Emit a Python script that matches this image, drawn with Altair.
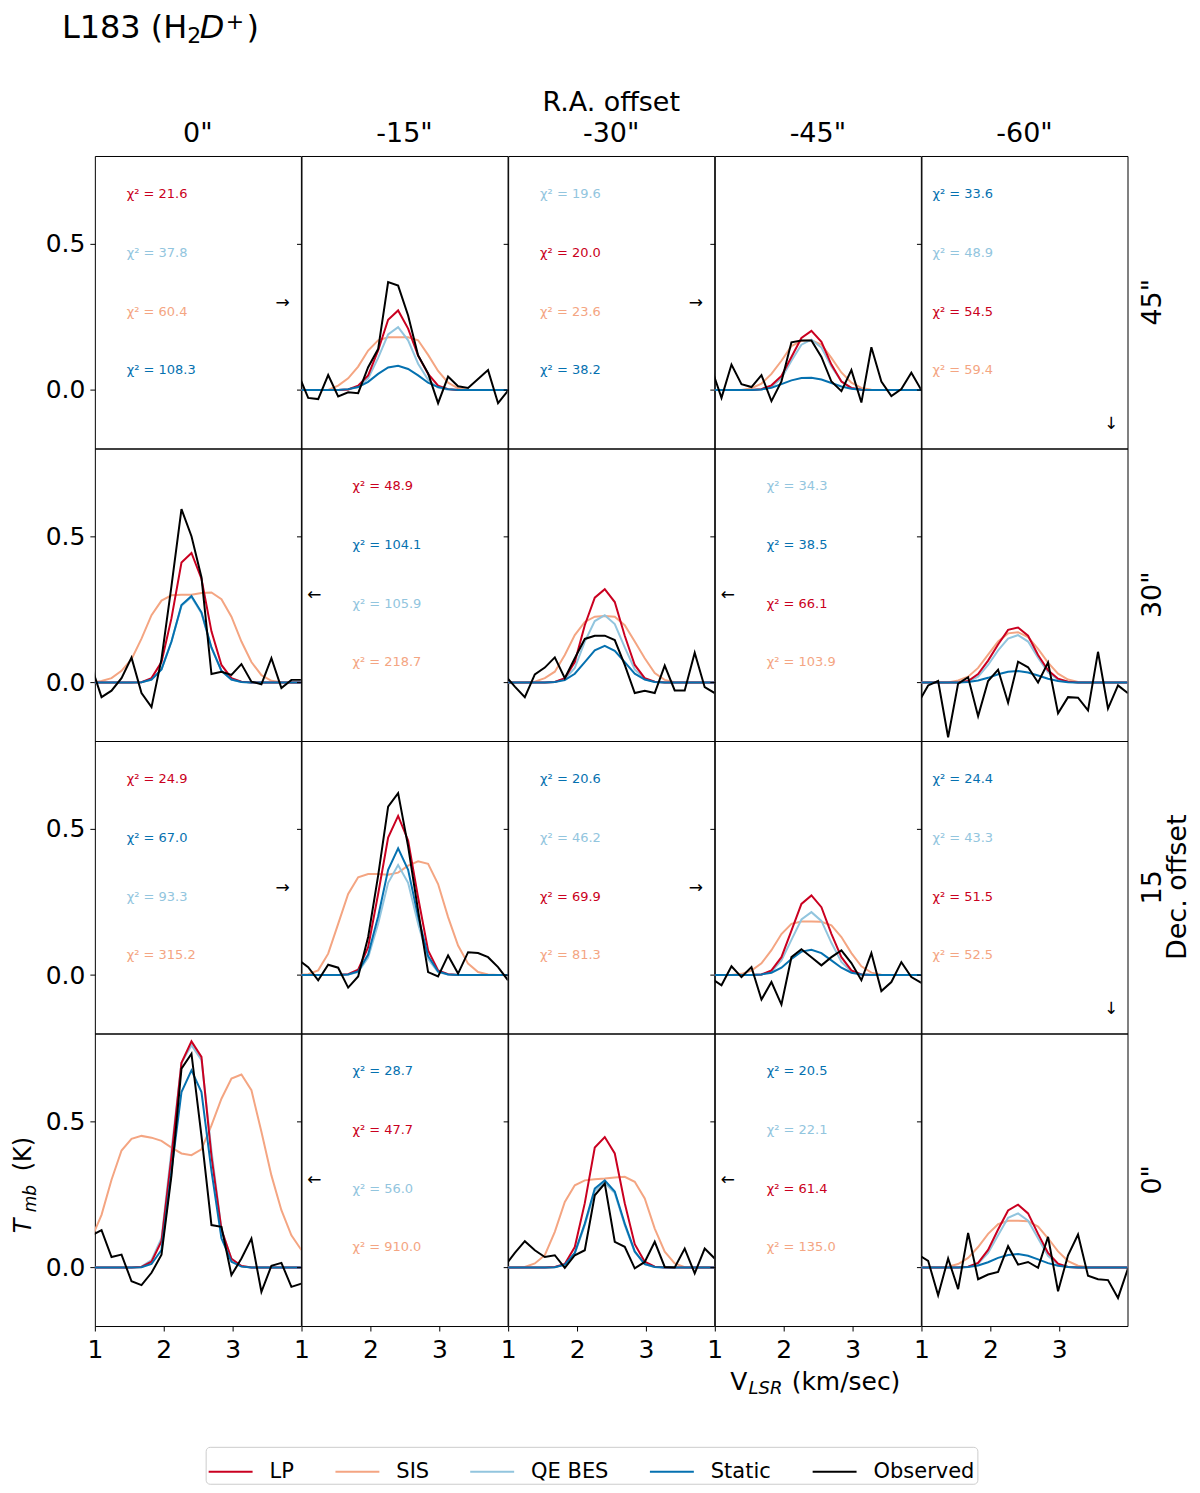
import altair as alt
import pandas as pd

# ---------------- data ----------------
VEL = [0.952, 1.097, 1.242, 1.387, 1.532, 1.677, 1.822, 1.967, 2.112, 2.257, 2.402,
       2.547, 2.692, 2.837, 2.982, 3.127, 3.272, 3.417, 3.562, 3.707, 3.852, 3.997]

RA_LABELS = ['0"', '-15"', '-30"', '-45"', '-60"']
DEC_LABELS = ['45"', '30"', '15', '0"']
SERIES = ["LP", "SIS", "QE BES", "Static", "Observed"]
COLORS = ["#ca0020", "#f4a582", "#92c5de", "#0571b0", "#000000"]

# Dec 45", RA -15"
OBS_45_15 = [0.055, -0.027, -0.031, 0.051, -0.022, -0.008, -0.011, 0.078, 0.14, 0.369, 0.357, 0.255, 0.118, 0.057, -0.045, 0.046, 0.013, 0.007, 0.038, 0.068, -0.045, -0.002]
LP_45_15 = [0, 0, 0, 0, 0, 0.002, 0.015, 0.05, 0.135, 0.24, 0.272, 0.21, 0.118, 0.055, 0.015, 0.003, 0, 0, 0, 0, 0, 0]
SIS_45_15 = [0, 0, 0, 0, 0.015, 0.04, 0.08, 0.135, 0.17, 0.18, 0.18, 0.18, 0.17, 0.12, 0.065, 0.025, 0.006, 0, 0, 0, 0, 0]
QE_45_15 = [0, 0, 0, 0, 0, 0.002, 0.01, 0.04, 0.11, 0.19, 0.215, 0.17, 0.09, 0.035, 0.008, 0.001, 0, 0, 0, 0, 0, 0]
ST_45_15 = [0, 0, 0, 0, 0, 0.003, 0.01, 0.028, 0.055, 0.077, 0.083, 0.072, 0.05, 0.025, 0.01, 0.003, 0, 0, 0, 0, 0, 0]

# Dec 45", RA -45"
OBS_45_45 = [0.074, -0.027, 0.087, 0.02, 0.01, 0.051, -0.038, 0.029, 0.163, 0.169, 0.169, 0.113, 0.029, -0.004, 0.068, -0.043, 0.146, 0.029, -0.021, 0.003, 0.059, 0.0]
LP_45_45 = [0, 0, 0, 0, 0, 0.003, 0.016, 0.048, 0.113, 0.178, 0.202, 0.165, 0.087, 0.029, 0.007, 0.001, 0, 0, 0, 0, 0, 0]
SIS_45_45 = [0, 0, 0, 0, 0.006, 0.022, 0.055, 0.10, 0.15, 0.168, 0.17, 0.155, 0.11, 0.06, 0.025, 0.007, 0.001, 0, 0, 0, 0, 0]
QE_45_45 = [0, 0, 0, 0, 0, 0.002, 0.012, 0.04, 0.1, 0.155, 0.172, 0.145, 0.08, 0.03, 0.007, 0.001, 0, 0, 0, 0, 0, 0]
ST_45_45 = [0, 0, 0, 0, 0, 0.002, 0.008, 0.02, 0.033, 0.041, 0.042, 0.036, 0.024, 0.012, 0.004, 0.001, 0, 0, 0, 0, 0, 0]

# Dec 30", RA 0"
OBS_30_0 = [0.054, -0.05, -0.028, 0.015, 0.085, -0.036, -0.084, 0.08, 0.33, 0.593, 0.5, 0.36, 0.029, 0.037, 0.026, 0.063, 0.003, -0.006, 0.083, -0.019, 0.009, 0.009]
LP_30_0 = [0, 0, 0, 0, 0, 0.001, 0.015, 0.07, 0.22, 0.41, 0.443, 0.355, 0.175, 0.06, 0.015, 0.003, 0, 0, 0, 0, 0, 0]
SIS_30_0 = [0, 0.005, 0.015, 0.04, 0.08, 0.15, 0.23, 0.28, 0.298, 0.3, 0.3, 0.306, 0.308, 0.285, 0.225, 0.14, 0.07, 0.025, 0.006, 0.001, 0, 0]
QE_30_0 = [0, 0, 0, 0, 0, 0.001, 0.01, 0.045, 0.14, 0.262, 0.292, 0.237, 0.118, 0.04, 0.01, 0.002, 0, 0, 0, 0, 0, 0]
ST_30_0 = [0, 0, 0, 0, 0, 0.001, 0.01, 0.045, 0.14, 0.265, 0.296, 0.24, 0.12, 0.04, 0.01, 0.002, 0, 0, 0, 0, 0, 0]

# Dec 30", RA -30"
OBS_30_30 = [0.025, -0.014, -0.05, 0.028, 0.051, 0.086, 0.015, 0.083, 0.149, 0.16, 0.16, 0.145, 0.06, -0.036, -0.028, -0.036, 0.058, -0.027, -0.027, 0.102, -0.016, -0.036]
LP_30_30 = [0, 0, 0, 0, 0, 0.002, 0.015, 0.07, 0.196, 0.29, 0.319, 0.275, 0.16, 0.06, 0.015, 0.003, 0, 0, 0, 0, 0, 0]
SIS_30_30 = [0, 0, 0, 0.003, 0.015, 0.037, 0.094, 0.162, 0.207, 0.225, 0.227, 0.225, 0.196, 0.14, 0.083, 0.032, 0.009, 0.001, 0, 0, 0, 0]
QE_30_30 = [0, 0, 0, 0, 0, 0.002, 0.012, 0.05, 0.14, 0.21, 0.23, 0.2, 0.12, 0.045, 0.012, 0.002, 0, 0, 0, 0, 0, 0]
ST_30_30 = [0, 0, 0, 0, 0, 0.002, 0.008, 0.03, 0.07, 0.11, 0.125, 0.108, 0.07, 0.03, 0.01, 0.002, 0, 0, 0, 0, 0, 0]

# Dec 30", RA -60"
OBS_30_60 = [-0.07, -0.01, 0.005, -0.187, -0.004, 0.018, -0.115, 0.005, 0.044, -0.069, 0.071, 0.052, 0.0, 0.068, -0.105, -0.05, -0.052, -0.095, 0.105, -0.089, -0.01, -0.037]
LP_30_60 = [0, 0, 0, 0, 0, 0.005, 0.029, 0.075, 0.13, 0.18, 0.188, 0.16, 0.094, 0.042, 0.013, 0.003, 0, 0, 0, 0, 0, 0]
SIS_30_60 = [0, 0, 0, 0, 0.007, 0.02, 0.05, 0.095, 0.14, 0.168, 0.172, 0.155, 0.115, 0.068, 0.03, 0.01, 0.002, 0, 0, 0, 0, 0]
QE_30_60 = [0, 0, 0, 0, 0, 0.003, 0.02, 0.06, 0.11, 0.15, 0.162, 0.14, 0.085, 0.035, 0.01, 0.002, 0, 0, 0, 0, 0, 0]
ST_30_60 = [0, 0, 0, 0, 0, 0.002, 0.007, 0.016, 0.028, 0.037, 0.039, 0.034, 0.024, 0.013, 0.005, 0.001, 0, 0, 0, 0, 0, 0]

# Dec 15, RA -15"
OBS_15_15 = [0.052, 0.027, -0.018, 0.035, 0.025, -0.043, -0.005, 0.13, 0.34, 0.576, 0.622, 0.44, 0.22, 0.01, -0.005, 0.067, 0.005, 0.078, 0.075, 0.061, 0.027, -0.018]
LP_15_15 = [0, 0, 0, 0, 0, 0.003, 0.018, 0.095, 0.277, 0.47, 0.544, 0.46, 0.265, 0.084, 0.016, 0.003, 0, 0, 0, 0, 0, 0]
SIS_15_15 = [0, 0.003, 0.016, 0.073, 0.175, 0.277, 0.334, 0.345, 0.345, 0.343, 0.35, 0.374, 0.389, 0.38, 0.311, 0.198, 0.101, 0.039, 0.01, 0.002, 0, 0]
QE_15_15 = [0, 0, 0, 0, 0, 0.002, 0.01, 0.06, 0.175, 0.315, 0.376, 0.315, 0.175, 0.055, 0.01, 0.002, 0, 0, 0, 0, 0, 0]
ST_15_15 = [0, 0, 0, 0, 0, 0.002, 0.012, 0.07, 0.2, 0.36, 0.433, 0.36, 0.2, 0.065, 0.012, 0.002, 0, 0, 0, 0, 0, 0]

# Dec 15, RA -45"
OBS_15_45 = [-0.012, -0.035, 0.03, -0.007, 0.027, -0.084, -0.024, -0.101, 0.061, 0.088, 0.061, 0.033, 0.061, 0.084, 0.041, -0.018, 0.075, -0.055, -0.024, 0.044, -0.007, -0.027]
LP_15_45 = [0, 0, 0, 0, 0, 0.002, 0.016, 0.061, 0.152, 0.243, 0.272, 0.232, 0.141, 0.061, 0.016, 0.002, 0, 0, 0, 0, 0, 0]
SIS_15_45 = [0, 0, 0, 0.004, 0.015, 0.04, 0.085, 0.14, 0.175, 0.183, 0.183, 0.182, 0.17, 0.13, 0.075, 0.03, 0.008, 0.001, 0, 0, 0, 0]
QE_15_45 = [0, 0, 0, 0, 0, 0.002, 0.012, 0.05, 0.12, 0.19, 0.215, 0.185, 0.11, 0.045, 0.012, 0.002, 0, 0, 0, 0, 0, 0]
ST_15_45 = [0, 0, 0, 0, 0, 0.002, 0.008, 0.025, 0.055, 0.08, 0.086, 0.075, 0.05, 0.025, 0.008, 0.002, 0, 0, 0, 0, 0, 0]

# Dec 0", RA 0"
OBS_0_0 = [0.11, 0.128, 0.036, 0.044, -0.047, -0.06, -0.018, 0.044, 0.315, 0.68, 0.731, 0.45, 0.145, 0.139, -0.026, 0.031, 0.099, -0.083, 0.006, 0.016, -0.066, -0.055]
LP_0_0 = [0, 0, 0, 0, 0, 0.002, 0.02, 0.09, 0.38, 0.70, 0.773, 0.72, 0.38, 0.13, 0.03, 0.005, 0, 0, 0, 0, 0, 0]
SIS_0_0 = [0.10, 0.18, 0.30, 0.40, 0.44, 0.45, 0.444, 0.433, 0.41, 0.39, 0.384, 0.404, 0.486, 0.577, 0.646, 0.66, 0.606, 0.464, 0.315, 0.196, 0.11, 0.06]
QE_0_0 = [0, 0, 0, 0, 0, 0.003, 0.025, 0.10, 0.40, 0.70, 0.76, 0.71, 0.40, 0.13, 0.03, 0.005, 0, 0, 0, 0, 0, 0]
ST_0_0 = [0, 0, 0, 0, 0, 0.001, 0.012, 0.06, 0.33, 0.60, 0.674, 0.60, 0.33, 0.10, 0.02, 0.003, 0, 0, 0, 0, 0, 0]

# Dec 0", RA -30"
OBS_0_30 = [0.005, 0.05, 0.09, 0.059, 0.036, 0.042, -0.001, 0.042, 0.059, 0.247, 0.287, 0.088, 0.071, -0.003, 0.019, 0.088, 0.002, 0.0, 0.065, -0.02, 0.065, 0.031]
LP_0_30 = [0, 0, 0, 0, 0, 0.002, 0.012, 0.07, 0.22, 0.41, 0.446, 0.39, 0.22, 0.08, 0.02, 0.003, 0, 0, 0, 0, 0, 0]
SIS_0_30 = [0, 0, 0.002, 0.014, 0.042, 0.122, 0.224, 0.281, 0.298, 0.302, 0.304, 0.308, 0.31, 0.293, 0.236, 0.133, 0.054, 0.014, 0.001, 0, 0, 0]
QE_0_30 = [0, 0, 0, 0, 0, 0.001, 0.01, 0.048, 0.145, 0.262, 0.29, 0.255, 0.145, 0.053, 0.012, 0.002, 0, 0, 0, 0, 0, 0]
ST_0_30 = [0, 0, 0, 0, 0, 0.001, 0.01, 0.05, 0.15, 0.27, 0.298, 0.26, 0.15, 0.055, 0.012, 0.002, 0, 0, 0, 0, 0, 0]

# Dec 0", RA -60"
OBS_0_60 = [0.044, 0.023, -0.095, 0.031, -0.074, 0.118, -0.04, -0.024, -0.015, 0.073, 0.01, 0.019, -0.001, 0.105, -0.081, 0.042, 0.113, -0.028, -0.04, -0.043, -0.104, -0.003]
LP_0_60 = [0, 0, 0, 0, 0, 0.003, 0.016, 0.06, 0.13, 0.195, 0.215, 0.185, 0.115, 0.05, 0.013, 0.002, 0, 0, 0, 0, 0, 0]
SIS_0_60 = [0, 0, 0, 0.003, 0.012, 0.033, 0.07, 0.115, 0.148, 0.16, 0.16, 0.158, 0.14, 0.1, 0.055, 0.022, 0.006, 0.001, 0, 0, 0, 0]
QE_0_60 = [0, 0, 0, 0, 0, 0.002, 0.013, 0.05, 0.11, 0.17, 0.185, 0.16, 0.1, 0.04, 0.01, 0.002, 0, 0, 0, 0, 0, 0]
ST_0_60 = [0, 0, 0, 0, 0, 0.002, 0.007, 0.018, 0.033, 0.043, 0.046, 0.04, 0.028, 0.015, 0.006, 0.002, 0, 0, 0, 0, 0, 0]

# chi-square annotations (value, model) for the empty panels
CHI_45_0 = [21.6, 37.8, 60.4, 108.3];   MOD_45_0 = ["LP", "QE BES", "SIS", "Static"]
CHI_45_30 = [19.6, 20.0, 23.6, 38.2];   MOD_45_30 = ["QE BES", "LP", "SIS", "Static"]
CHI_45_60 = [33.6, 48.9, 54.5, 59.4];   MOD_45_60 = ["Static", "QE BES", "LP", "SIS"]
CHI_30_15 = [48.9, 104.1, 105.9, 218.7]; MOD_30_15 = ["LP", "Static", "QE BES", "SIS"]
CHI_30_45 = [34.3, 38.5, 66.1, 103.9];  MOD_30_45 = ["QE BES", "Static", "LP", "SIS"]
CHI_15_0 = [24.9, 67.0, 93.3, 315.2];   MOD_15_0 = ["LP", "Static", "QE BES", "SIS"]
CHI_15_30 = [20.6, 46.2, 69.9, 81.3];   MOD_15_30 = ["Static", "QE BES", "LP", "SIS"]
CHI_15_60 = [24.4, 43.3, 51.5, 52.5];   MOD_15_60 = ["Static", "QE BES", "LP", "SIS"]
CHI_0_15 = [28.7, 47.7, 56.0, 910.0];   MOD_0_15 = ["Static", "LP", "QE BES", "SIS"]
CHI_0_45 = [20.5, 22.1, 61.4, 135.0];   MOD_0_45 = ["Static", "QE BES", "LP", "SIS"]

SPECTRA = {
    (0, 1): [LP_45_15, SIS_45_15, QE_45_15, ST_45_15, OBS_45_15],
    (0, 3): [LP_45_45, SIS_45_45, QE_45_45, ST_45_45, OBS_45_45],
    (1, 0): [LP_30_0, SIS_30_0, QE_30_0, ST_30_0, OBS_30_0],
    (1, 2): [LP_30_30, SIS_30_30, QE_30_30, ST_30_30, OBS_30_30],
    (1, 4): [LP_30_60, SIS_30_60, QE_30_60, ST_30_60, OBS_30_60],
    (2, 1): [LP_15_15, SIS_15_15, QE_15_15, ST_15_15, OBS_15_15],
    (2, 3): [LP_15_45, SIS_15_45, QE_15_45, ST_15_45, OBS_15_45],
    (3, 0): [LP_0_0, SIS_0_0, QE_0_0, ST_0_0, OBS_0_0],
    (3, 2): [LP_0_30, SIS_0_30, QE_0_30, ST_0_30, OBS_0_30],
    (3, 4): [LP_0_60, SIS_0_60, QE_0_60, ST_0_60, OBS_0_60],
}
CHI = {
    (0, 0): (CHI_45_0, MOD_45_0, "→"),
    (0, 2): (CHI_45_30, MOD_45_30, "→"),
    (0, 4): (CHI_45_60, MOD_45_60, "↓"),
    (1, 1): (CHI_30_15, MOD_30_15, "←"),
    (1, 3): (CHI_30_45, MOD_30_45, "←"),
    (2, 0): (CHI_15_0, MOD_15_0, "→"),
    (2, 2): (CHI_15_30, MOD_15_30, "→"),
    (2, 4): (CHI_15_60, MOD_15_60, "↓"),
    (3, 1): (CHI_0_15, MOD_0_15, "←"),
    (3, 3): (CHI_0_45, MOD_0_45, "←"),
}

# ---------------- layout / style ----------------
W, H = 206.4, 293
FONT = "DejaVu Sans"
CHI_X = [32, 51, 32, 52, 11]
CHI_Y = [38, 97, 156, 214]
ARROW_POS = {"→": (188, 147), "←": (13, 147), "↓": (190, 268)}

xscale = alt.Scale(domain=[1, 3.99], nice=False, zero=False)
yscale = alt.Scale(domain=[-0.2, 0.8], nice=False, zero=False)
cscale = alt.Scale(domain=SERIES, range=COLORS)
LEG = alt.Legend(
    title=None, orient="none", legendX=111, legendY=1293, direction="horizontal",
    columns=5, symbolType="stroke", symbolSize=1936, symbolStrokeWidth=2,
    labelFontSize=21, labelFont=FONT, labelColor="black", labelOffset=16,
    columnPadding=37, padding=2, strokeColor="#cccccc", fillColor="#ffffff",
    cornerRadius=4,
)
ONE = pd.DataFrame({"a": [0]})


def txt(x, y, s, size=13, color="black", align="left", baseline="middle",
        angle=0, style="normal"):
    return alt.Chart(ONE).mark_text(
        font=FONT, fontSize=size, align=align, baseline=baseline, angle=angle,
        fontStyle=style, color=color,
    ).encode(x=alt.value(x), y=alt.value(y), text=alt.value(s))


def panel(r, c):
    if r == 3:
        xaxis = alt.Axis(values=[1, 2, 3], format="d", title=None, labelFlush=False,
                         tickSize=5, labelPadding=7)
    else:
        xaxis = None
    yaxis = alt.Axis(values=[0.0, 0.5], format=".1f", title=None, labels=(c == 0),
                     tickSize=5, labelPadding=5)
    X = alt.X("v:Q", scale=xscale, axis=xaxis)
    Y = alt.Y("T:Q", scale=yscale, axis=yaxis)
    layers = []
    if (r, c) in SPECTRA:
        lists = SPECTRA[(r, c)]
        for i in [1, 2, 0, 3, 4]:
            df = pd.DataFrame({"v": VEL, "T": lists[i], "series": SERIES[i]})
            layers.append(
                alt.Chart(df).mark_line(clip=True, strokeWidth=2).encode(
                    x=X, y=Y, color=alt.Color("series:N", scale=cscale, legend=LEG)
                )
            )
    else:
        df = pd.DataFrame({"v": [1.0, 3.99], "T": [0.0, 0.0]})
        layers.append(alt.Chart(df).mark_point(opacity=0).encode(x=X, y=Y))
        vals, mods, arrow = CHI[(r, c)]
        for j, (v, m) in enumerate(zip(vals, mods)):
            layers.append(txt(CHI_X[c], CHI_Y[j], f"χ² = {v:.1f}", 13,
                              COLORS[SERIES.index(m)]))
        ax, ay = ARROW_POS[arrow]
        layers.append(txt(ax, ay, arrow, 17, "black", align="center"))
    # column headers
    if r == 0:
        layers.append(txt(W / 2, -22, RA_LABELS[c], 27, align="center"))
        if c == 2:
            layers.append(txt(W / 2, -53, "R.A. offset", 27, align="center"))
    # row headers
    if c == 4:
        layers.append(txt(232.4, H / 2, DEC_LABELS[r], 27, align="center", angle=270))
        if r == 2:
            layers.append(txt(257, H / 2, "Dec. offset", 27, align="center", angle=270))
    # figure title and layout anchor
    if r == 0 and c == 0:
        layers.append(alt.Chart(ONE).mark_square(size=1, opacity=0).encode(
            x=alt.value(-86.5), y=alt.value(-147.5)))
        layers.append(txt(-33, -118, "L183 (H", 32, baseline="alphabetic"))
        layers.append(txt(92.6, -113, "2", 22, baseline="alphabetic"))
        layers.append(txt(105, -118, "D", 32, baseline="alphabetic", style="italic"))
        layers.append(txt(131, -127, "+", 22, baseline="alphabetic"))
        layers.append(txt(152, -118, ")", 32, baseline="alphabetic"))
    # y-axis title
    if r == 3 and c == 0:
        layers.append(txt(-63.5, 200, "T", 24, baseline="alphabetic", angle=270, style="italic"))
        layers.append(txt(-59, 179, "mb", 17, baseline="alphabetic", angle=270, style="italic"))
        layers.append(txt(-63.5, 138, "(K)", 24, baseline="alphabetic", angle=270))
    # x-axis title
    if r == 3 and c == 3:
        layers.append(txt(15.5, 357, "V", 25, baseline="alphabetic"))
        layers.append(txt(33.8, 361, "LSR", 18, baseline="alphabetic", style="italic"))
        layers.append(txt(77, 357, "(km/sec)", 25, baseline="alphabetic"))
    return alt.layer(*layers).properties(width=W, height=H)


panels = [panel(r, c) for r in range(4) for c in range(5)]

chart = (
    alt.concat(*panels, columns=5, spacing=0, bounds="flush")
    .properties(padding={"left": -1, "top": -2, "right": 0, "bottom": 0},
                background="white")
    .configure_view(stroke="black", strokeWidth=1)
    .configure_axis(
        labelFont=FONT, labelFontSize=25, labelColor="black", tickColor="black",
        tickWidth=1, domain=False, grid=False,
    )
)

chart.save("out.html", embed_options={"renderer": "svg", "actions": False})
